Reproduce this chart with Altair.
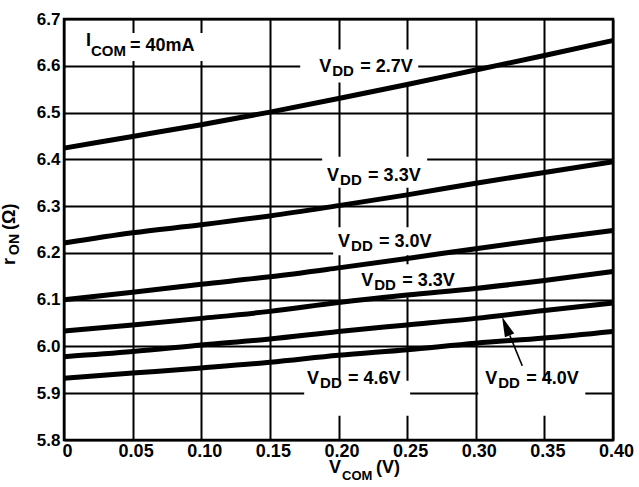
import altair as alt
import pandas as pd

# ---- data -------------------------------------------------------------
vcom = [0.00, 0.05, 0.10, 0.15, 0.20, 0.25, 0.30, 0.35, 0.40]

curves = {
    "2.7V": [6.424, 6.449, 6.474, 6.501, 6.530, 6.560, 6.591, 6.622, 6.654],
    "3.3V_a": [6.221, 6.243, 6.260, 6.279, 6.301, 6.324, 6.349, 6.372, 6.395],
    "3.0V": [6.100, 6.116, 6.133, 6.149, 6.168, 6.188, 6.209, 6.229, 6.248],
    "3.3V_b": [6.033, 6.046, 6.060, 6.075, 6.094, 6.110, 6.124, 6.141, 6.160],
    "4.0V": [5.978, 5.989, 6.003, 6.016, 6.032, 6.046, 6.060, 6.077, 6.093],
    "4.6V": [5.932, 5.943, 5.954, 5.966, 5.981, 5.993, 6.007, 6.018, 6.032],
}

x_ticks = [0.0, 0.05, 0.10, 0.15, 0.20, 0.25, 0.30, 0.35, 0.40]
y_ticks = [5.8, 5.9, 6.0, 6.1, 6.2, 6.3, 6.4, 6.5, 6.6, 6.7]

# curve labels: left edge / baseline in data units
lab_text = ["= 2.7V", "= 3.3V", "= 3.0V", "= 3.3V", "= 4.6V", "= 4.0V"]
lab_x = [0.1859, 0.1917, 0.1997, 0.2165, 0.1771, 0.3069]
lab_y = [6.5868, 6.3538, 6.2128, 6.1295, 5.9201, 5.9201]

# white backing boxes behind the labels
box_x1 = [0.0087, 0.1721, 0.1881, 0.1961, 0.2121, 0.1750, 0.3018]
box_x2 = [0.1035, 0.2581, 0.2646, 0.2719, 0.2902, 0.2522, 0.3798]
box_y1 = [6.6701, 6.6350, 6.4056, 6.2547, 6.1756, 5.9265, 5.9265]
box_y2 = [6.6103, 6.5645, 6.3393, 6.1949, 6.1051, 5.8517, 5.8517]

# I_COM note
note_x = [0.016]
note_y = [6.6316]

# arrow pointing at the 4.0V curve
arrow_tail = (0.3339, 5.9585)
arrow_base = (0.3248, 6.0237)
arrow_head = (0.3219, 6.0434)

FONT = "Liberation Sans"

rows = []
for name, vals in curves.items():
    for xv, yv in zip(vcom, vals):
        rows.append({"series": name, "vcom": xv, "ron": yv})
curve_df = pd.DataFrame(rows)
label_df = pd.DataFrame({"x": lab_x, "y": lab_y, "rest": lab_text})
box_df = pd.DataFrame({"x1": box_x1, "x2": box_x2, "y1": box_y1, "y2": box_y2})
note_df = pd.DataFrame({"x": note_x, "y": note_y})
shaft_df = pd.DataFrame({"x": [arrow_tail[0]], "y": [arrow_tail[1]],
                         "x2": [arrow_base[0]], "y2": [arrow_base[1]]})
head_df = pd.DataFrame({"x": [arrow_head[0]], "y": [arrow_head[1]]})

xscale = alt.Scale(domain=[0, 0.4], nice=False, zero=False)
yscale = alt.Scale(domain=[5.8, 6.7], nice=False, zero=False)

xaxis = alt.Axis(values=x_ticks, title=None, grid=True, gridColor="black",
                 gridWidth=2, gridOpacity=1, domain=False, ticks=False,
                 labelFont=FONT, labelFontSize=18, labelFontWeight="bold",
                 labelColor="black", labelPadding=16, labelBaseline="alphabetic",
                 labelOffset=3, labelFlush=False,
                 labelExpr="datum.value == 0 ? '0' : format(datum.value, '.2f')")
yaxis = alt.Axis(values=y_ticks, title=None, grid=True, gridColor="black",
                 gridWidth=2, gridOpacity=1, domain=False, ticks=False,
                 labelFont=FONT, labelFontSize=17, labelFontWeight="bold",
                 labelColor="black", labelPadding=4, labelBaseline="middle",
                 labelFlush=False, format=".1f")

base_x = alt.X("vcom:Q", scale=xscale, axis=xaxis)
base_y = alt.Y("ron:Q", scale=yscale, axis=yaxis)

lines = alt.Chart(curve_df).mark_line(
    color="black", strokeWidth=5, interpolate="monotone", strokeCap="butt"
).encode(x=base_x, y=base_y, detail="series:N")

boxes = alt.Chart(box_df).mark_rect(fill="white", stroke=None).encode(
    x=alt.X("x1:Q", scale=xscale), x2="x2:Q",
    y=alt.Y("y1:Q", scale=yscale), y2="y2:Q",
)

def txt(df, field_or_value, dx, dy, size):
    m = alt.Chart(df).mark_text(
        font=FONT, fontWeight="bold", fontSize=size, color="black",
        align="left", baseline="alphabetic", dx=dx, dy=dy,
    )
    enc = dict(x=alt.X("x:Q", scale=xscale), y=alt.Y("y:Q", scale=yscale))
    if field_or_value.startswith("@"):
        enc["text"] = alt.Text(field_or_value[1:] + ":N")
    else:
        enc["text"] = alt.value(field_or_value)
    return m.encode(**enc)

lab_v = txt(label_df, "V", 0, 0, 18)
lab_dd = txt(label_df, "DD", 13, 4, 15)
lab_rest = txt(label_df, "@rest", 41, 0, 18)

note_i = txt(note_df, "I", 0, -5, 18)
note_com = txt(note_df, "COM", 5, 5, 15)
note_rest = txt(note_df, "= 40mA", 44, 0, 18)

shaft = alt.Chart(shaft_df).mark_rule(color="black", strokeWidth=1.5).encode(
    x=alt.X("x:Q", scale=xscale), y=alt.Y("y:Q", scale=yscale),
    x2="x2:Q", y2="y2:Q",
)
head = alt.Chart(head_df).mark_point(
    shape="M0,-1L0.5,1L-0.5,1Z", filled=True, color="black", opacity=1,
    size=400, angle=338, strokeWidth=0,
).encode(x=alt.X("x:Q", scale=xscale), y=alt.Y("y:Q", scale=yscale))

# axis titles with subscripts
def title_part(text, x, y, size, angle=0):
    return alt.Chart(note_df).mark_text(
        font=FONT, fontWeight="bold", fontSize=size, color="black",
        align="left", baseline="alphabetic", angle=angle,
    ).encode(x=alt.value(x), y=alt.value(y), text=alt.value(text))

xt = (title_part("V", 265, 454, 18) + title_part("COM", 278, 461, 13)
      + title_part("(V)", 312, 454, 18))
yt = (title_part("r", -49, 246, 18, 270) + title_part("ON", -45, 236, 14, 270)
      + title_part("(\u03a9)", -49, 211, 18, 270))

chart = alt.layer(
    boxes, lines, shaft, head,
    lab_v, lab_dd, lab_rest, note_i, note_com, note_rest, xt, yt,
).properties(
    width=549, height=421,
    autosize=alt.AutoSizeParams(type="none"),
    padding={"left": 64, "top": 19, "right": 26, "bottom": 47},
    background="white",
).configure_view(stroke="black", strokeWidth=2.5)

chart.save("out.html", embed_options={"renderer": "svg", "actions": False})
